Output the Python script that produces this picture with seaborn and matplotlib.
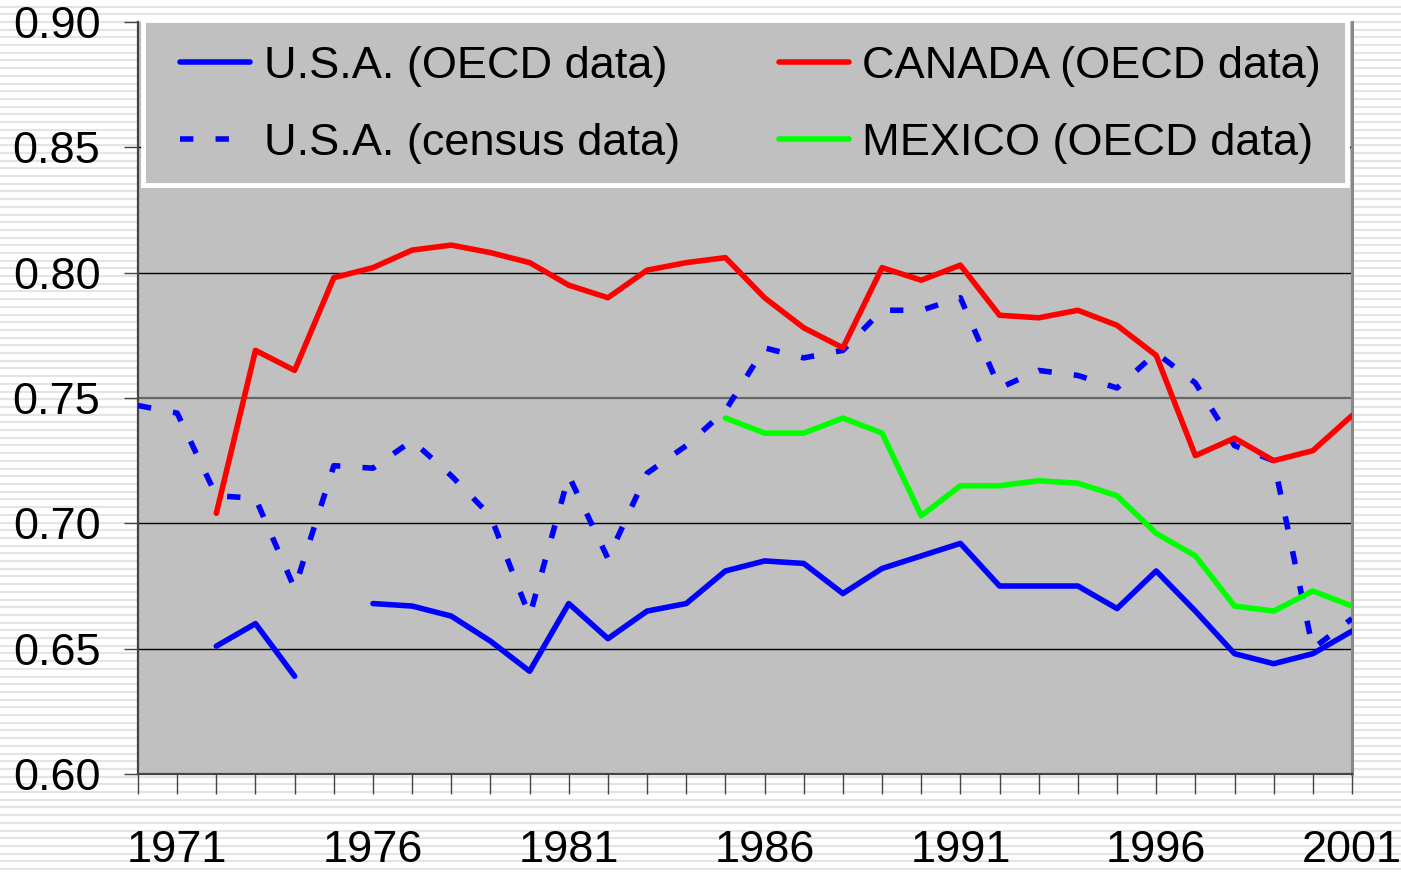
import numpy as np
import pandas as pd
import matplotlib
matplotlib.use('Agg')
import matplotlib.pyplot as plt
from matplotlib.lines import Line2D
from matplotlib.patches import Rectangle
import seaborn as sns

# years on the category axis
years = list(range(1970, 2002))

# U.S.A. (OECD data) - gap in 1970, 1971 and 1975
usa_oecd = [np.nan, np.nan, 0.651, 0.660, 0.639, np.nan, 0.668, 0.667, 0.663, 0.653,
            0.641, 0.668, 0.654, 0.665, 0.668, 0.681, 0.685, 0.684, 0.672, 0.682,
            0.687, 0.692, 0.675, 0.675, 0.675, 0.666, 0.681, 0.665, 0.648, 0.644,
            0.648, 0.657]

# U.S.A. (census data)
usa_census = [0.747, 0.744, 0.711, 0.710, 0.674, 0.723, 0.722, 0.733, 0.719, 0.703,
              0.663, 0.719, 0.686, 0.720, 0.731, 0.745, 0.770, 0.766, 0.769, 0.785,
              0.785, 0.790, 0.754, 0.761, 0.759, 0.754, 0.768, 0.756, 0.731, 0.725,
              0.650, 0.662]

# CANADA (OECD data)
canada = [np.nan, np.nan, 0.704, 0.769, 0.761, 0.798, 0.802, 0.809, 0.811, 0.808,
          0.804, 0.795, 0.790, 0.801, 0.804, 0.806, 0.790, 0.778, 0.770, 0.802,
          0.797, 0.803, 0.783, 0.782, 0.785, 0.779, 0.767, 0.727, 0.734, 0.725,
          0.729, 0.743]

# MEXICO (OECD data)
mexico = [np.nan] * 15 + [0.742, 0.736, 0.736, 0.742, 0.736, 0.703, 0.715, 0.715,
                          0.717, 0.716, 0.711, 0.696, 0.687, 0.667, 0.665, 0.673,
                          0.667]

labels = ['U.S.A. (OECD data)', 'U.S.A. (census data)',
          'CANADA (OECD data)', 'MEXICO (OECD data)']
yticks = [0.60, 0.65, 0.70, 0.75, 0.80, 0.85, 0.90]
xlabels_years = [1971, 1976, 1981, 1986, 1991, 1996, 2001]

df = pd.DataFrame({'year': years, 'usa_oecd': usa_oecd, 'usa_census': usa_census,
                   'canada': canada, 'mexico': mexico})


# split a series into runs without NaN so gaps stay open
def segments(col):
    d = df[['year', col]].copy()
    d['seg'] = d[col].isna().cumsum()
    return d.dropna()


sns.set_style('white')
plt.rcParams['font.family'] = ['Liberation Sans', 'DejaVu Sans']
plt.rcParams['text.color'] = 'black'

W, H = 1401, 872
fig = plt.figure(figsize=(W / 100, H / 100), dpi=100)
fig.patch.set_facecolor('white')

# striped background
bg = fig.add_axes([0, 0, 1, 1], zorder=-10)
bg.set_xlim(0, 1)
bg.set_ylim(0, H)
for yy in np.arange(3, H, 7.7):
    bg.axhline(yy, color='#e4e4e4', lw=1.5)
bg.axis('off')

ax = fig.add_axes([138 / W, 1 - 774 / H, (1352 - 138) / W, (774 - 22) / H])
ax.set_facecolor('#c0c0c0')

LW = 4.0
FS = 32.5
blue = '#0000ff'
census_dash = (0, (2.4, 4.0))

d = segments('usa_oecd')
sns.lineplot(data=d, x='year', y='usa_oecd', units='seg', estimator=None,
             color=blue, lw=LW, ax=ax, zorder=3)

d = segments('usa_census')
sns.lineplot(data=d, x='year', y='usa_census', units='seg', estimator=None,
             color=blue, lw=LW, ax=ax, zorder=3)
ax.lines[-1].set_linestyle(census_dash)
ax.lines[-1].set_dash_capstyle('butt')

d = segments('canada')
sns.lineplot(data=d, x='year', y='canada', units='seg', estimator=None,
             color='#ff0000', lw=LW, ax=ax, zorder=3)

d = segments('mexico')
sns.lineplot(data=d, x='year', y='mexico', units='seg', estimator=None,
             color='#00ff00', lw=LW, ax=ax, zorder=3)

ax.set_xlim(1970, 2001)
ax.set_ylim(0.60, 0.90)
ax.set_xlabel('')
ax.set_ylabel('')

# gridlines
for gy in yticks[1:-1]:
    if gy == 0.75:
        ax.axhline(gy, color='#666666', lw=1.6, zorder=1)
    else:
        ax.axhline(gy, color='black', lw=1.0, zorder=1)

ax.set_yticks(yticks)
ax.set_yticklabels(['%.2f' % v for v in yticks])
ax.set_xticks(years)
ax.set_xticklabels([str(y) if y in xlabels_years else '' for y in years])

ax.tick_params(axis='y', direction='out', length=10, width=1, color='#444444',
               pad=17, labelsize=FS, labelcolor='black', left=True)
ax.tick_params(axis='x', direction='out', length=14.5, width=1, color='#444444',
               pad=26, labelsize=FS, labelcolor='black', bottom=True)

ax.spines['top'].set_visible(False)
ax.spines['left'].set_color('#444444')
ax.spines['left'].set_linewidth(1.6)
ax.spines['bottom'].set_color('#444444')
ax.spines['bottom'].set_linewidth(1.6)
ax.spines['right'].set_color('#888888')
ax.spines['right'].set_linewidth(2.2)

# legend box drawn by hand, entries placed inside it
box = Rectangle((143 / W, 1 - 185 / H), (1347 - 143) / W, (185 - 20) / H,
                transform=fig.transFigure, facecolor='#c0c0c0', edgecolor='white',
                lw=3.5, zorder=4, clip_on=False)
ax.add_artist(box)

handles = [
    Line2D([], [], color=blue, lw=LW, solid_capstyle='round'),
    Line2D([], [], color=blue, lw=LW, linestyle=census_dash, dash_capstyle='butt'),
    Line2D([], [], color='#ff0000', lw=LW, solid_capstyle='round'),
    Line2D([], [], color='#00ff00', lw=LW, solid_capstyle='round'),
]
leg = ax.legend(handles, labels, ncol=2, loc='upper left',
                bbox_to_anchor=(180 / W, 1 - 46 / H), bbox_transform=fig.transFigure,
                borderaxespad=0, borderpad=0, frameon=False,
                fontsize=FS, handlelength=1.55, handletextpad=0.3,
                columnspacing=2.2, labelspacing=0.8)
leg.set_zorder(5)

fig.savefig('out.png', dpi=100)
